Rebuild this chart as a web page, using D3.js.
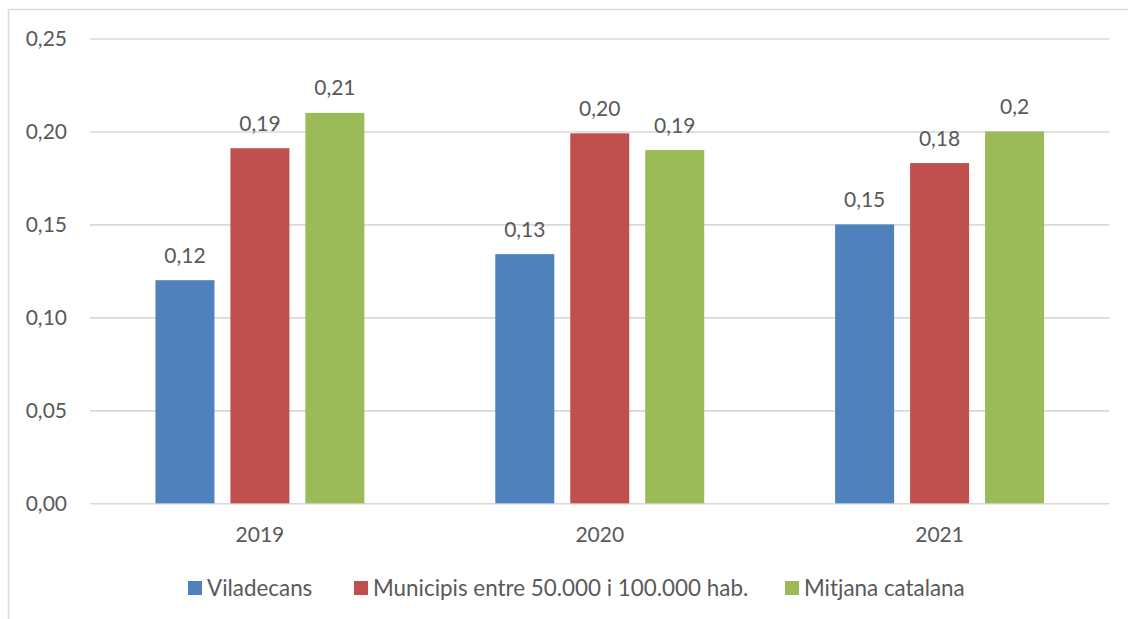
<!DOCTYPE html>
<html>
<head>
<meta charset="utf-8">
<script src="https://cdn.jsdelivr.net/npm/d3@7"></script>
<style>
  html, body { margin: 0; padding: 0; background: #fff; }
  svg { display: block; }
  text { font-family: Lato, "Open Sans", sans-serif; fill: #595959; }
</style>
</head>
<body>
<svg id="chart" width="1128" height="619"></svg>
<script>
const categories = ["2019", "2020", "2021"];
const seriesNames = ["Viladecans", "Municipis entre 50.000 i 100.000 hab.", "Mitjana catalana"];
const viladecans = [0.120, 0.134, 0.150];
const municipis = [0.191, 0.199, 0.183];
const mitjana = [0.210, 0.190, 0.200];
const labelsViladecans = ["0,12", "0,13", "0,15"];
const labelsMunicipis = ["0,19", "0,20", "0,18"];
const labelsMitjana = ["0,21", "0,19", "0,2"];
const yTicks = [0, 0.05, 0.10, 0.15, 0.20, 0.25];
const colors = ["#4F81BD", "#C0504D", "#9BBB59"];

const series = [
  { name: seriesNames[0], values: viladecans, labels: labelsViladecans, color: colors[0] },
  { name: seriesNames[1], values: municipis, labels: labelsMunicipis, color: colors[1] },
  { name: seriesNames[2], values: mitjana, labels: labelsMitjana, color: colors[2] }
];

const svg = d3.select("#chart");
const numSize = 21, legendSize = 22.4;

// outer frame (top and left edges visible)
svg.append("line").attr("x1", 8.5).attr("x2", 1128).attr("y1", 9.5).attr("y2", 9.5)
  .attr("stroke", "#D9D9D9").attr("stroke-width", 1.5);
svg.append("line").attr("x1", 8.5).attr("x2", 8.5).attr("y1", 9.5).attr("y2", 619)
  .attr("stroke", "#D9D9D9").attr("stroke-width", 1.5);

const plotLeft = 90, plotRight = 1109.5, plotTop = 38.5, plotBottom = 503.3;

const y = d3.scaleLinear().domain([0, 0.25]).range([plotBottom, plotTop]);
const x0 = d3.scaleBand().domain(categories).range([plotLeft, plotRight]).padding(0);
const x1 = d3.scaleBand().domain(d3.range(series.length))
  .range([0, x0.bandwidth()]).paddingInner(0.213).paddingOuter(0.873);

// gridlines + y labels
const fmt = d => d3.format(".2f")(d).replace(".", ",");
const yAxis = d3.axisLeft(y).tickValues(yTicks).tickSize(-(plotRight - plotLeft)).tickFormat(fmt).tickPadding(23);
const gy = svg.append("g").attr("transform", `translate(${plotLeft},0)`).call(yAxis);
gy.select(".domain").remove();
gy.selectAll(".tick line").attr("stroke", "#D9D9D9").attr("stroke-width", 1.6);
gy.selectAll(".tick text").attr("font-size", numSize).style("font-family", "Lato, sans-serif").attr("fill", "#595959");

// bars
const groups = svg.append("g").selectAll("g").data(series).join("g");
groups.each(function(s, si) {
  const g = d3.select(this);
  g.selectAll("rect").data(categories).join("rect")
    .attr("x", (c) => x0(c) + x1(si))
    .attr("width", x1.bandwidth())
    .attr("y", (c, i) => y(s.values[i]))
    .attr("height", (c, i) => plotBottom - y(s.values[i]))
    .attr("fill", s.color);
  g.selectAll("text").data(categories).join("text")
    .attr("x", (c) => x0(c) + x1(si) + x1.bandwidth() / 2)
    .attr("y", (c, i) => y(s.values[i]) - 17.5)
    .attr("text-anchor", "middle")
    .attr("font-size", numSize)
    .text((c, i) => s.labels[i]);
});

// x axis labels
const xAxis = d3.axisBottom(x0).tickSize(0).tickPadding(24);
const gx = svg.append("g").attr("transform", `translate(0,${plotBottom})`).call(xAxis);
gx.select(".domain").remove();
gx.selectAll(".tick text").attr("font-size", numSize).style("font-family", "Lato, sans-serif").attr("fill", "#595959");

// legend
const legendX = [188, 354, 785];
const legend = svg.append("g");
series.forEach((s, i) => {
  legend.append("rect").attr("x", legendX[i]).attr("y", 581).attr("width", 14).attr("height", 14).attr("fill", s.color);
  legend.append("text").attr("x", legendX[i] + 19).attr("y", 596).attr("font-size", legendSize).text(s.name);
});
</script>
</body>
</html>
